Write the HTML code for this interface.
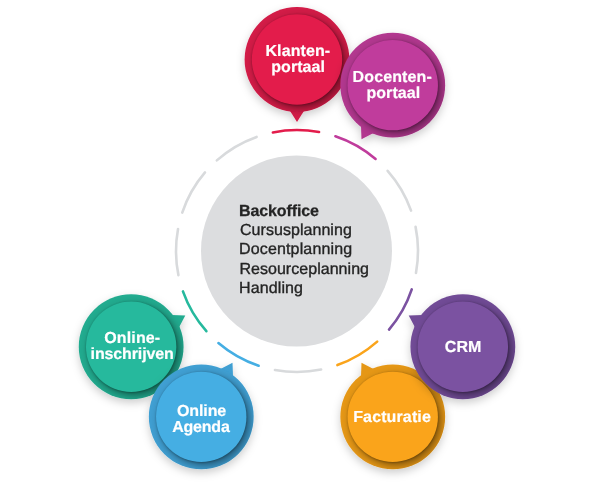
<!DOCTYPE html>
<html><head><meta charset="utf-8"><style>
html,body{margin:0;padding:0;background:#fff;width:600px;height:484px;overflow:hidden}
svg{display:block}
.gs{will-change:transform}
text{font-family:"Liberation Sans", sans-serif;text-rendering:geometricPrecision}
</style></head><body>
<svg width="600" height="484" viewBox="0 0 600 484">
<g class="gs">
<defs>
<filter id="ds" x="-50%" y="-50%" width="200%" height="200%"><feDropShadow dx="0" dy="3.5" stdDeviation="4" flood-color="#000" flood-opacity="0.2"/></filter>
<filter id="blur" x="-50%" y="-50%" width="200%" height="200%"><feGaussianBlur stdDeviation="4.5"/></filter>
<filter id="blur2" x="-50%" y="-50%" width="200%" height="200%"><feGaussianBlur stdDeviation="1.3"/></filter>
</defs>
<circle cx="296.5" cy="251" r="95.5" fill="#DCDDDF"/>
<path d="M272.88 132.43 A121 121 0 0 1 319.05 132.03" fill="none" stroke="#E31C4B" stroke-width="2.6" stroke-linecap="round"/>
<path d="M335.39 136.25 A121 121 0 0 1 375.58 158.99" fill="none" stroke="#C03C9C" stroke-width="2.6" stroke-linecap="round"/>
<path d="M387.62 170.82 A121 121 0 0 1 411.06 210.61" fill="none" stroke="#D8DADC" stroke-width="2.6" stroke-linecap="round"/>
<path d="M415.57 226.88 A121 121 0 0 1 415.97 273.05" fill="none" stroke="#D8DADC" stroke-width="2.6" stroke-linecap="round"/>
<path d="M411.75 289.39 A121 121 0 0 1 389.01 329.58" fill="none" stroke="#7B52A1" stroke-width="2.6" stroke-linecap="round"/>
<path d="M377.18 341.62 A121 121 0 0 1 337.39 365.06" fill="none" stroke="#FAA41B" stroke-width="2.6" stroke-linecap="round"/>
<path d="M321.12 369.57 A121 121 0 0 1 274.95 369.97" fill="none" stroke="#D8DADC" stroke-width="2.6" stroke-linecap="round"/>
<path d="M258.61 365.75 A121 121 0 0 1 218.42 343.01" fill="none" stroke="#45AEE3" stroke-width="2.6" stroke-linecap="round"/>
<path d="M206.38 331.18 A121 121 0 0 1 182.94 291.39" fill="none" stroke="#26B99D" stroke-width="2.6" stroke-linecap="round"/>
<path d="M178.43 275.12 A121 121 0 0 1 178.03 228.95" fill="none" stroke="#D8DADC" stroke-width="2.6" stroke-linecap="round"/>
<path d="M182.25 212.61 A121 121 0 0 1 204.99 172.42" fill="none" stroke="#D8DADC" stroke-width="2.6" stroke-linecap="round"/>
<path d="M216.82 160.38 A121 121 0 0 1 256.61 136.94" fill="none" stroke="#D8DADC" stroke-width="2.6" stroke-linecap="round"/>
<g transform="translate(297.00 59.50)">
<clipPath id="cp_klanten"><circle r="52.4"/><path transform="rotate(0)" d="M-11 45 L11 45 L0 62.5 Z"/></clipPath>
<g filter="url(#ds)"><g transform="rotate(0)"><path d="M-11 45 L11 45 L0 62.5 Z" fill="#D21A47"/></g><circle r="52.4" fill="#D21A47"/></g>
<g clip-path="url(#cp_klanten)"><circle cx="3.3" cy="3.5" r="45.2" fill="#000" opacity="0.46" filter="url(#blur)"/><circle cx="0.3" cy="0.5" r="45.2" fill="#000" opacity="0.3" filter="url(#blur2)"/></g>
<circle r="45.2" fill="#E31C4B"/>
</g>
<text x="265.40" y="55.9" font-size="16" font-weight="bold" textLength="64.80" lengthAdjust="spacing" fill="#fff" stroke="#fff" stroke-width="0.2">Klanten-</text>
<text x="271.20" y="71.8" font-size="16" font-weight="bold" textLength="53.80" lengthAdjust="spacing" fill="#fff" stroke="#fff" stroke-width="0.2">portaal</text>
<g transform="translate(392.75 85.16)">
<clipPath id="cp_docenten"><circle r="52.4"/><path transform="rotate(30)" d="M-11 45 L11 45 L0 62.5 Z"/></clipPath>
<g filter="url(#ds)"><g transform="rotate(30)"><path d="M-11 45 L11 45 L0 62.5 Z" fill="#B2388F"/></g><circle r="52.4" fill="#B2388F"/></g>
<g clip-path="url(#cp_docenten)"><circle cx="3.3" cy="3.5" r="45.2" fill="#000" opacity="0.46" filter="url(#blur)"/><circle cx="0.3" cy="0.5" r="45.2" fill="#000" opacity="0.3" filter="url(#blur2)"/></g>
<circle r="45.2" fill="#C03C9C"/>
</g>
<text x="352.60" y="81.8" font-size="16" font-weight="bold" textLength="79.20" lengthAdjust="spacing" fill="#fff" stroke="#fff" stroke-width="0.2">Docenten-</text>
<text x="366.40" y="97.6" font-size="16" font-weight="bold" textLength="53.80" lengthAdjust="spacing" fill="#fff" stroke="#fff" stroke-width="0.2">portaal</text>
<g transform="translate(392.75 416.84)">
<clipPath id="cp_facturatie"><circle r="52.4"/><path transform="rotate(150)" d="M-11 45 L11 45 L0 62.5 Z"/></clipPath>
<g filter="url(#ds)"><g transform="rotate(150)"><path d="M-11 45 L11 45 L0 62.5 Z" fill="#E59719"/></g><circle r="52.4" fill="#E59719"/></g>
<g clip-path="url(#cp_facturatie)"><circle cx="3.3" cy="3.5" r="45.2" fill="#000" opacity="0.46" filter="url(#blur)"/><circle cx="0.3" cy="0.5" r="45.2" fill="#000" opacity="0.3" filter="url(#blur2)"/></g>
<circle r="45.2" fill="#FAA41B"/>
</g>
<text x="353.20" y="421.7" font-size="16" font-weight="bold" textLength="77.60" lengthAdjust="spacing" fill="#fff" stroke="#fff" stroke-width="0.2">Facturatie</text>
<g transform="translate(462.84 346.75)">
<clipPath id="cp_crm"><circle r="52.4"/><path transform="rotate(120)" d="M-11 45 L11 45 L0 62.5 Z"/></clipPath>
<g filter="url(#ds)"><g transform="rotate(120)"><path d="M-11 45 L11 45 L0 62.5 Z" fill="#714C96"/></g><circle r="52.4" fill="#714C96"/></g>
<g clip-path="url(#cp_crm)"><circle cx="3.3" cy="3.5" r="45.2" fill="#000" opacity="0.46" filter="url(#blur)"/><circle cx="0.3" cy="0.5" r="45.2" fill="#000" opacity="0.3" filter="url(#blur2)"/></g>
<circle r="45.2" fill="#7B52A1"/>
</g>
<text x="444.80" y="351.7" font-size="16" font-weight="bold" textLength="36.60" lengthAdjust="spacing" fill="#fff" stroke="#fff" stroke-width="0.2">CRM</text>
<g transform="translate(131.16 346.75)">
<clipPath id="cp_inschrijven"><circle r="52.4"/><path transform="rotate(240)" d="M-11 45 L11 45 L0 62.5 Z"/></clipPath>
<g filter="url(#ds)"><g transform="rotate(240)"><path d="M-11 45 L11 45 L0 62.5 Z" fill="#23AB8F"/></g><circle r="52.4" fill="#23AB8F"/></g>
<g clip-path="url(#cp_inschrijven)"><circle cx="3.3" cy="3.5" r="45.2" fill="#000" opacity="0.46" filter="url(#blur)"/><circle cx="0.3" cy="0.5" r="45.2" fill="#000" opacity="0.3" filter="url(#blur2)"/></g>
<circle r="45.2" fill="#26B99D"/>
</g>
<text x="104.20" y="343.0" font-size="16" font-weight="bold" textLength="56.00" lengthAdjust="spacing" fill="#fff" stroke="#fff" stroke-width="0.2">Online-</text>
<text x="90.60" y="358.6" font-size="16" font-weight="bold" textLength="83.20" lengthAdjust="spacing" fill="#fff" stroke="#fff" stroke-width="0.2">inschrijven</text>
<g transform="translate(201.25 416.84)">
<clipPath id="cp_agenda"><circle r="52.4"/><path transform="rotate(210)" d="M-11 45 L11 45 L0 62.5 Z"/></clipPath>
<g filter="url(#ds)"><g transform="rotate(210)"><path d="M-11 45 L11 45 L0 62.5 Z" fill="#3F9FD2"/></g><circle r="52.4" fill="#3F9FD2"/></g>
<g clip-path="url(#cp_agenda)"><circle cx="3.3" cy="3.5" r="45.2" fill="#000" opacity="0.46" filter="url(#blur)"/><circle cx="0.3" cy="0.5" r="45.2" fill="#000" opacity="0.3" filter="url(#blur2)"/></g>
<circle r="45.2" fill="#45AEE3"/>
</g>
<text x="177.00" y="415.8" font-size="16" font-weight="bold" textLength="49.20" lengthAdjust="spacing" fill="#fff" stroke="#fff" stroke-width="0.2">Online</text>
<text x="172.20" y="431.7" font-size="16" font-weight="bold" textLength="57.60" lengthAdjust="spacing" fill="#fff" stroke="#fff" stroke-width="0.2">Agenda</text>
<text x="239.00" y="215.8" font-size="16" textLength="80.00" lengthAdjust="spacing" font-weight="bold" fill="#242424" stroke="#242424" stroke-width="0.25">Backoffice</text>
<text x="240.00" y="234.7" font-size="16" textLength="111.80" lengthAdjust="spacing"  fill="#242424" stroke="#242424" stroke-width="0.35">Cursusplanning</text>
<text x="239.00" y="254.4" font-size="16" textLength="113.20" lengthAdjust="spacing"  fill="#242424" stroke="#242424" stroke-width="0.35">Docentplanning</text>
<text x="239.40" y="274.0" font-size="16" textLength="129.60" lengthAdjust="spacing"  fill="#242424" stroke="#242424" stroke-width="0.35">Resourceplanning</text>
<text x="239.00" y="292.7" font-size="16" textLength="64.00" lengthAdjust="spacing"  fill="#242424" stroke="#242424" stroke-width="0.35">Handling</text>
</g>
</svg>
</body></html>
